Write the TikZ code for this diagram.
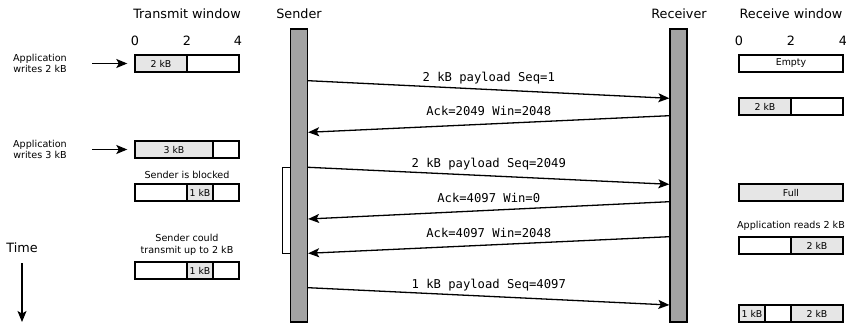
\documentclass[tikz,border=0pt]{standalone}
\usepackage{fontspec}
\setmainfont{DejaVu Sans}
\setmonofont{DejaVu Sans Mono}
\usetikzlibrary{arrows.meta}
\definecolor{barfill}{RGB}{163,163,163}
\definecolor{segfill}{RGB}{230,230,230}

\begin{document}
\begin{tikzpicture}[x=1pt, y=-1pt,
        arrow/.style = {line width=1.3pt,-{Stealth[length=11pt,width=9pt,inset=2.5pt]}},
        title/.style = {font=\fontsize{12.8}{15}\selectfont},
        note/.style = {font=\fontsize{9.6}{11.7}\selectfont, align=center},
        seg/.style = {draw, line width=1.4pt, minimum width=#1, minimum height=17pt,
                      inner sep=0pt, font=\fontsize{9.4}{11}\selectfont},
        used/.style = {seg=#1, fill=segfill},
        bar/.style = {draw, line width=1.3pt, fill=barfill,
                      minimum width=17pt, minimum height=293pt},
        msg/.style = {font=\ttfamily\fontsize{12.2}{14}\selectfont, anchor=base, yshift=8pt}]
                \useasboundingbox (0,0) rectangle (846,323);

                \node[title] (txtitle) at (187,14) {Transmit window};
                \node[title] (sndtitle) at (299,14) {Sender};
                \node[title] (rcvtitle) at (679,14) {Receiver};
                \node[title] (rxtitle) at (791,14) {Receive window};
                \foreach \v/\x in {0/135,2/187,4/238}
                    \node[title] (tx\v) at (\x,41) {\v};
                \foreach \v/\x in {0/739,2/791,4/843}
                    \node[title] (rx\v) at (\x,41) {\v};

                \node[bar] (snd) at (299,175.5) {};
                \node[bar] (rcv) at (678.5,175.5) {};

                % transmit window
                \node[note] (wr2) at (40,63.5) {Application\\writes 2 kB};
                \node[used=52pt] (t1a) at (161,63.5) {2 kB};
                \node[seg=52pt] (t1b) at (213,63.5) {};
                \node[note] (wr3) at (40,149.5) {Application\\writes 3 kB};
                \node[used=78pt] (t2a) at (174,149.5) {3 kB};
                \node[seg=26pt] (t2b) at (226,149.5) {};
                \node[note] (blocked) at (187,175) {Sender is blocked};
                \node[seg=52pt] (t3a) at (161,192.5) {};
                \node[used=26pt] (t3b) at (200,192.5) {1 kB};
                \node[seg=26pt] (t3c) at (226,192.5) {};
                \node[note] (could) at (187,245) {Sender could\\transmit up to 2 kB};
                \node[seg=52pt] (t4a) at (161,270.5) {};
                \node[used=26pt] (t4b) at (200,270.5) {1 kB};
                \node[seg=26pt] (t4c) at (226,270.5) {};

                \draw[arrow] ([xshift=22pt]wr2.east) -- ([xshift=-7pt]t1a.west);
                \draw[arrow] ([xshift=22pt]wr3.east) -- ([xshift=-7pt]t2a.west);

                % receive window
                \node[seg=104pt] (r1) at (791,63.5) {Empty};
                \node[used=52pt] (r2a) at (765,106.5) {2 kB};
                \node[seg=52pt] (r2b) at (817,106.5) {};
                \node[used=104pt] (r3) at (791,192.5) {Full};
                \node[note] (reads) at (791,226) {Application reads 2 kB};
                \node[seg=52pt] (r4a) at (765,245.5) {};
                \node[used=52pt] (r4b) at (817,245.5) {2 kB};
                \node[used=26pt] (r5a) at (752,313.5) {1 kB};
                \node[seg=26pt] (r5b) at (778,313.5) {};
                \node[used=52pt] (r5c) at (817,313.5) {2 kB};

                \node[title] (time) at (22,248) {Time};
                \coordinate (timeend) at (22,322);
                \draw[arrow] ([yshift=-7pt]time.south) -- (timeend);

                % segments on the wire
                \draw[arrow] (snd.east |- 0,80.7) -- node[msg] (m1) {2 kB payload Seq=1} (rcv.west |- 0,98.3);
                \draw[arrow] (rcv.west |- 0,115.7) -- node[msg] (m2) {Ack=2049 Win=2048} (snd.east |- 0,132.3);
                \draw[arrow] (snd.east |- 0,167.3) -- node[msg] (m3) {2 kB payload Seq=2049} (rcv.west |- 0,184.3);
                \draw[arrow] (rcv.west |- 0,201.7) -- node[msg] (m4) {Ack=4097 Win=0} (snd.east |- 0,219);
                \draw[arrow] (rcv.west |- 0,236.7) -- node[msg] (m5) {Ack=4097 Win=2048} (snd.east |- 0,253.3);
                \draw[arrow] (snd.east |- 0,287.7) -- node[msg] (m6) {1 kB payload Seq=4097} (rcv.west |- 0,305);

                \draw[line width=0.9pt] (snd.west |- 0,167.3) -| (282,253.3) -- (snd.west |- 0,253.3);
            \end{tikzpicture}
\end{document}
